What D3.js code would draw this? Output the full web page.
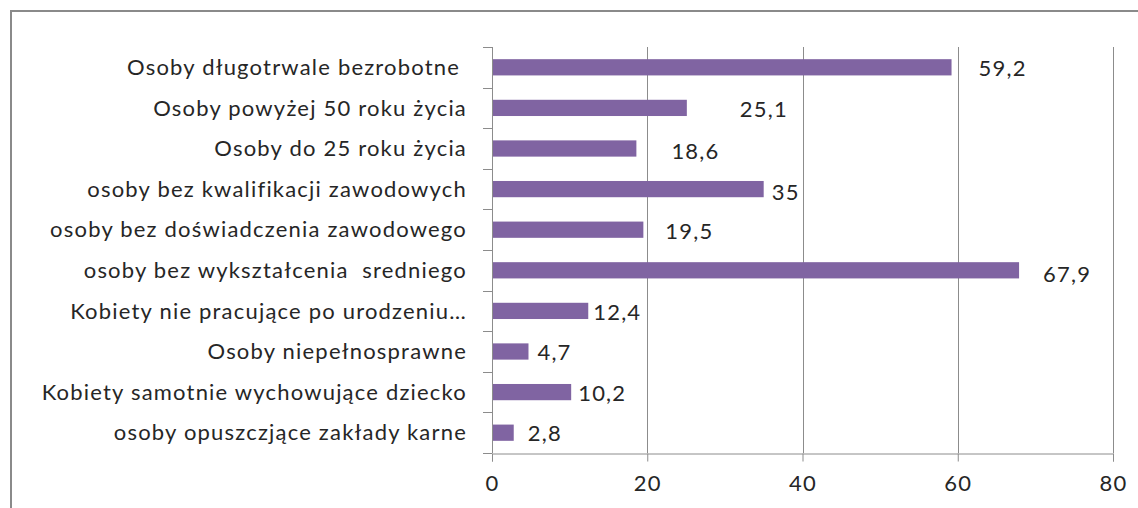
<!DOCTYPE html>
<html>
<head>
<meta charset="utf-8">
<script src="https://cdn.jsdelivr.net/npm/d3@7"></script>
<style>
  body { margin: 0; background: #fff; }
  svg text { font-family: Lato, "Open Sans", sans-serif; fill: #262626; letter-spacing: 1.2px; }
</style>
</head>
<body>
<div id="chart"></div>
<script>
// data, top to bottom as in the picture
const categories = [
  "Osoby długotrwale bezrobotne ",
  "Osoby powyżej 50 roku życia",
  "Osoby do 25 roku życia",
  "osoby bez kwalifikacji zawodowych",
  "osoby bez doświadczenia zawodowego",
  "osoby bez wykształcenia  sredniego",
  "Kobiety nie pracujące po urodzeniu…",
  "Osoby niepełnosprawne",
  "Kobiety samotnie wychowujące dziecko",
  "osoby opuszczjące zakłady karne"
];
const values = [59.2, 25.1, 18.6, 35, 19.5, 67.9, 12.4, 4.7, 10.2, 2.8];
const valueLabels = ["59,2", "25,1", "18,6", "35", "19,5", "67,9", "12,4", "4,7", "10,2", "2,8"];
const xTicks = [0, 20, 40, 60, 80];

// labels were dragged by hand in the original, so each one has its own nudge
const labelDx = [27, 53, 35, 8, 22, 24, 5, 9, 7, 14];
const labelDy = [1, 1, 3, 3, 2, 4, 1, 1, 1, 1];

const width = 1138, height = 508;
const margin = {top: 47, left: 492, right: 25, bottom: 55};

const svg = d3.select("#chart").append("svg")
  .attr("width", width)
  .attr("height", height);

// outer frame, runs off the right and bottom edges
svg.append("rect")
  .attr("x", 11).attr("y", 11)
  .attr("width", width).attr("height", height)
  .attr("fill", "none")
  .attr("stroke", "#8a8a8a")
  .attr("stroke-width", 2);

let x = d3.scaleLinear().domain([0, 80]).range([margin.left, width - margin.right]);
let y = d3.scaleBand().domain(categories)
  .range([margin.top, height - margin.bottom])
  .paddingInner(0.6).paddingOuter(0.3);

const axisColor = "#8c8c8c";

// vertical gridlines
svg.append("g").selectAll("line").data(xTicks.slice(1)).enter().append("line")
  .attr("x1", d => Math.round(x(d)) + 0.5)
  .attr("x2", d => Math.round(x(d)) + 0.5)
  .attr("y1", margin.top)
  .attr("y2", height - margin.bottom)
  .attr("stroke", axisColor);

// bars
svg.append("g").selectAll("rect").data(values).enter().append("rect")
  .attr("x", x(0))
  .attr("y", (d, i) => y(categories[i]))
  .attr("width", d => x(d) - x(0))
  .attr("height", y.bandwidth())
  .attr("fill", "#8064a2");

// x axis
let xAxis = d3.axisBottom(x).tickValues(xTicks).tickSize(8).tickPadding(14).tickFormat(d3.format("d"));
let gx = svg.append("g")
  .attr("transform", "translate(0," + (height - margin.bottom + 0.5) + ")")
  .call(xAxis);
gx.select(".domain").attr("stroke", axisColor);
gx.selectAll(".tick line").attr("stroke", axisColor);
gx.selectAll(".tick text").style("font-size", "22px").attr("fill", "#262626");

// y axis: line plus ticks between categories
let step = y.step();
let bounds = d3.range(categories.length + 1).map(i => y(categories[0]) - step * 0.3 + i * step);
let gy = svg.append("g");
gy.append("line")
  .attr("x1", x(0) + 0.5).attr("x2", x(0) + 0.5)
  .attr("y1", margin.top).attr("y2", height - margin.bottom)
  .attr("stroke", axisColor);
gy.selectAll(".ytick").data(bounds).enter().append("line")
  .attr("class", "ytick")
  .attr("x1", x(0) - 9).attr("x2", x(0))
  .attr("y1", d => Math.round(d) + 0.5)
  .attr("y2", d => Math.round(d) + 0.5)
  .attr("stroke", axisColor);

// category labels
svg.append("g").selectAll("text").data(categories).enter().append("text")
  .attr("x", x(0) - 25)
  .attr("y", d => y(d) + y.bandwidth() / 2)
  .attr("dy", "0.35em")
  .attr("text-anchor", "end")
  .style("font-size", "22px")
  .style("white-space", "pre")
  .text(d => d);

// value labels
svg.append("g").selectAll("text").data(values).enter().append("text")
  .attr("x", (d, i) => x(d) + labelDx[i])
  .attr("y", (d, i) => y(categories[i]) + y.bandwidth() / 2 + labelDy[i])
  .attr("dy", "0.35em")
  .style("font-size", "22px")
  .text((d, i) => valueLabels[i]);
</script>
</body>
</html>
